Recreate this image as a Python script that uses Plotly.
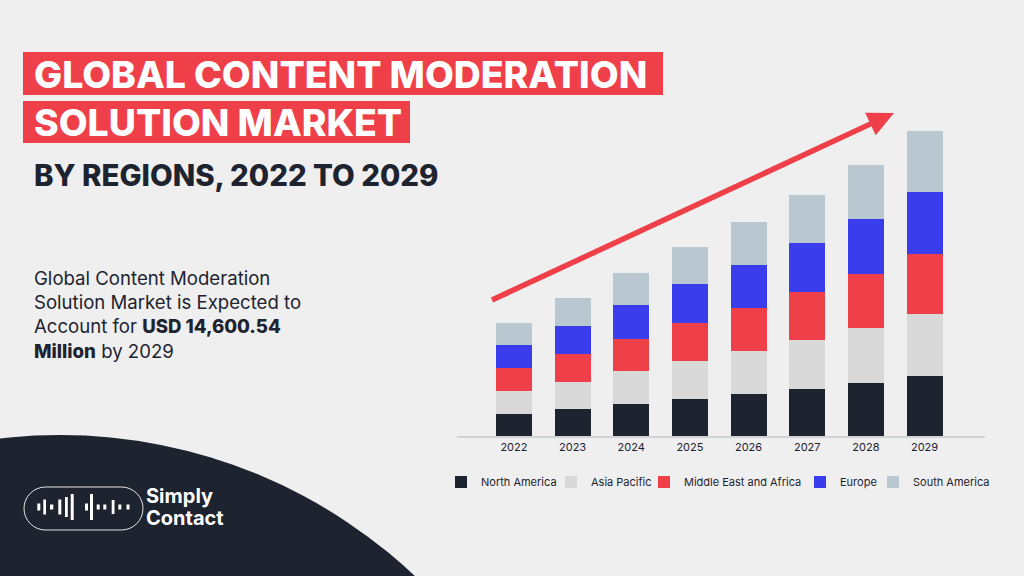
import plotly.graph_objects as go

# ---------------- data ----------------
years = ["2022", "2023", "2024", "2025", "2026", "2027", "2028", "2029"]
north_america = [1037, 1277, 1515, 1769, 1993, 2261, 2533, 2868]
asia_pacific = [1100, 1324, 1578, 1817, 2070, 2328, 2615, 2949]
middle_east_africa = [1100, 1324, 1563, 1831, 2041, 2280, 2581, 2901]
europe = [1100, 1339, 1592, 1831, 2089, 2357, 2643, 2964]
south_america = [1085, 1324, 1563, 1783, 2022, 2294, 2581, 2916]

series_names = ["North America", "Asia Pacific", "Middle East and Africa", "Europe", "South America"]
series_values = [north_america, asia_pacific, middle_east_africa, europe, south_america]
series_colors = ["#1E2330", "#D9D9D9", "#EF404A", "#3A3DEB", "#B9C7D1"]
legend_square_left = [458, 568, 661, 817, 890]   # legend layout (pixels)

W, H = 1024, 576
BG = "#EFEFEF"
DARK = "#1E2330"
RED = "#EF404A"
FONT = "Inter"


def px(x):
    return x / W


def py(y):
    return 1 - y / H


fig = go.Figure()
legend_ids = ["legend", "legend2", "legend3", "legend4", "legend5"]
for name, vals, col, lid in zip(series_names, series_values, series_colors, legend_ids):
    fig.add_trace(go.Bar(x=years, y=vals, name=name, legend=lid,
                         marker=dict(color=col, line=dict(width=0))))

shapes = []
# dark curved background bottom-left
cx, cy, r = 60, 952, 517
shapes.append(dict(type="circle", xref="paper", yref="paper",
                   x0=px(cx - r), x1=px(cx + r), y0=py(cy + r), y1=py(cy - r),
                   fillcolor=DARK, line=dict(width=0), layer="below"))
# red title boxes
shapes.append(dict(type="rect", xref="paper", yref="paper", x0=px(23), x1=px(663), y0=py(95), y1=py(52),
                   fillcolor=RED, line=dict(width=0), layer="below"))
shapes.append(dict(type="rect", xref="paper", yref="paper", x0=px(23), x1=px(410), y0=py(143), y1=py(101),
                   fillcolor=RED, line=dict(width=0), layer="below"))

# arrow
tip = (894, 113)
start = (492, 300)
dx, dy = tip[0] - start[0], tip[1] - start[1]
L = (dx ** 2 + dy ** 2) ** 0.5
ux, uy = dx / L, dy / L
nx, ny = -uy, ux
hl, hw = 26, 12.5
bx, by = tip[0] - hl * ux, tip[1] - hl * uy
shapes.append(dict(type="line", xref="paper", yref="paper", x0=px(start[0]), y0=py(start[1]),
                   x1=px(bx + 2 * ux), y1=py(by + 2 * uy), line=dict(color=RED, width=5.5)))
c1 = (bx + hw * nx, by + hw * ny)
c2 = (bx - hw * nx, by - hw * ny)
shapes.append(dict(type="path", xref="paper", yref="paper",
                   path=f"M{px(tip[0])},{py(tip[1])} L{px(c1[0])},{py(c1[1])} L{px(c2[0])},{py(c2[1])} Z",
                   fillcolor=RED, line=dict(width=0)))

# logo pill outline
x0, x1, y0, y1 = 24, 143, 487, 530
rr = (y1 - y0) / 2
k = 0.5523 * rr
ym = (y0 + y1) / 2
pts = [
    ("M", [(x0 + rr, y0)]),
    ("L", [(x1 - rr, y0)]),
    ("C", [(x1 - rr + k, y0), (x1, ym - k), (x1, ym)]),
    ("C", [(x1, ym + k), (x1 - rr + k, y1), (x1 - rr, y1)]),
    ("L", [(x0 + rr, y1)]),
    ("C", [(x0 + rr - k, y1), (x0, ym + k), (x0, ym)]),
    ("C", [(x0, ym - k), (x0 + rr - k, y0), (x0 + rr, y0)]),
]
path = " ".join(cmd + " ".join(f"{px(a)},{py(b)}" for a, b in p) for cmd, p in pts) + " Z"
shapes.append(dict(type="path", xref="paper", yref="paper", path=path,
                   line=dict(color="#E6E6E6", width=1)))

# waveform bars (x0, x1, half-height)
wave = [(37.3, 40.3, 3.5), (43.3, 46, 7.5), (50, 53.3, 2.5), (58.3, 61.3, 7.5), (65, 67.8, 10),
        (70.7, 73.7, 13), (85, 88, 3.5), (90, 93, 13), (96.7, 99.7, 2.5), (103.3, 106.3, 2.5),
        (111.7, 114.5, 7), (118.3, 121.3, 2.5), (126.5, 129.5, 2.5)]
for a, b, h in wave:
    shapes.append(dict(type="rect", xref="paper", yref="paper", x0=px(a), x1=px(b),
                       y0=py(507 + h), y1=py(507 - h), fillcolor="white", line=dict(width=0)))

B = '<span style="font-weight:800">'
annotations = [
    dict(text="GLOBAL CONTENT MODERATION", x=px(32), y=py(74), xanchor="left", yanchor="middle",
         font=dict(family=FONT, size=37.4, color="white", weight=800)),
    dict(text="SOLUTION MARKET", x=px(32), y=py(123), xanchor="left", yanchor="middle",
         font=dict(family=FONT, size=37.4, color="white", weight=800)),
    dict(text="BY REGIONS, 2022 TO 2029", x=px(32), y=py(175), xanchor="left", yanchor="middle",
         font=dict(family=FONT, size=29.4, color=DARK, weight=800)),
    dict(text=("Global Content Moderation<br>Solution Market is Expected to<br>Account for "
               + B + "USD 14,600.54</span><br>" + B + "Million</span> by 2029"),
         x=px(32), y=py(265), xanchor="left", yanchor="top", align="left",
         font=dict(family=FONT, size=18.6, color=DARK)),
    dict(text="Simply", x=px(144), y=py(496), xanchor="left", yanchor="middle",
         font=dict(family=FONT, size=20, color="white", weight=700)),
    dict(text="Contact", x=px(144), y=py(518), xanchor="left", yanchor="middle",
         font=dict(family=FONT, size=20, color="white", weight=700)),
]
for a in annotations:
    a.update(xref="paper", yref="paper", showarrow=False)

legend_layout = {}
for lid, sq in zip(legend_ids, legend_square_left):
    legend_layout[lid] = dict(orientation="h", x=px(sq + 6.25 - 23.25), xanchor="left",
                              y=py(482), yanchor="middle",
                              font=dict(family=FONT, size=11, color=DARK),
                              bgcolor="rgba(0,0,0,0)", itemwidth=30, borderwidth=0)

fig.update_layout(
    width=W, height=H,
    margin=dict(l=0, r=0, t=0, b=0, pad=0, autoexpand=False),
    paper_bgcolor=BG, plot_bgcolor="rgba(0,0,0,0)",
    barmode="stack", bargap=0.386,
    font=dict(family=FONT, color=DARK),
    xaxis=dict(domain=[px(457), px(985)], type="category", range=[-0.97, 8.03],
               showline=True, linecolor="#D2D2D2", linewidth=2, showgrid=False, ticks="",
               tickfont=dict(family=FONT, size=11, color=DARK), fixedrange=True),
    yaxis=dict(domain=[py(436), py(120)], range=[0, 15111], visible=False, fixedrange=True),
    shapes=shapes, annotations=annotations,
    showlegend=True,
    **legend_layout,
)

fig.write_html("out.html", post_script="document.body.style.margin='0';document.body.style.overflow='hidden';",
               config={"displayModeBar": False, "responsive": False})
